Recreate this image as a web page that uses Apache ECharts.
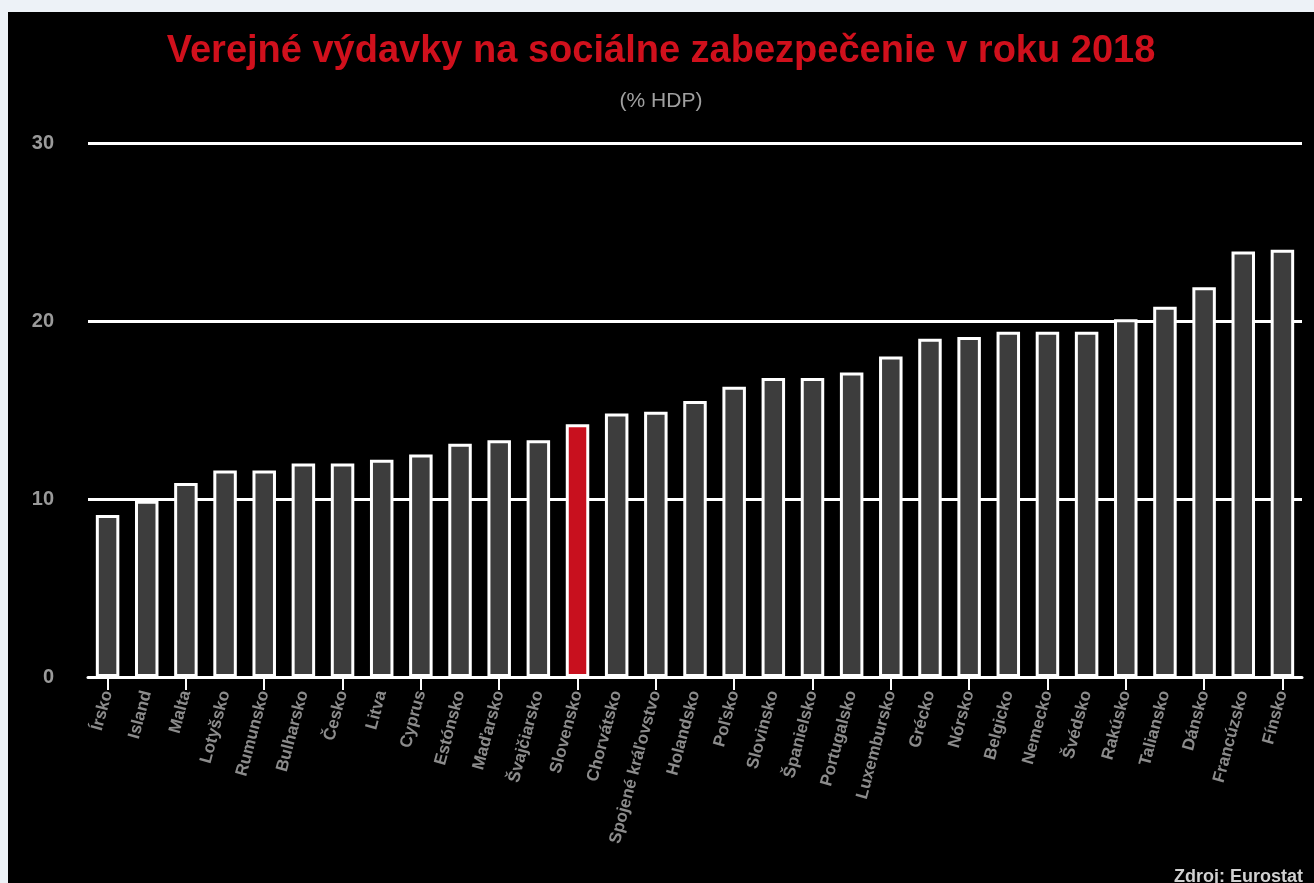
<!DOCTYPE html>
<html>
<head>
<meta charset="utf-8">
<script src="https://cdn.jsdelivr.net/npm/echarts@6/dist/echarts.min.js"></script>
<style>
  html, body { margin: 0; padding: 0; background: #edf2f7; width: 1314px; height: 883px; overflow: hidden; }
  #chart { position: absolute; left: 8px; top: 12px; width: 1306px; height: 871px; background: #000; }
</style>
</head>
<body>
<div id="chart"></div>
<script>
const categories = [
  "Írsko", "Island", "Malta", "Lotyšsko", "Rumunsko", "Bulharsko", "Česko", "Litva",
  "Cyprus", "Estónsko", "Maďarsko", "Švajčiarsko", "Slovensko", "Chorvátsko",
  "Spojené kráľovstvo", "Holandsko", "Poľsko", "Slovinsko", "Španielsko", "Portugalsko",
  "Luxembursko", "Grécko", "Nórsko", "Belgicko", "Nemecko", "Švédsko", "Rakúsko",
  "Taliansko", "Dánsko", "Francúzsko", "Fínsko"
];
const values = [
  9.1, 9.9, 10.9, 11.6, 11.6, 12.0, 12.0, 12.2,
  12.5, 13.1, 13.3, 13.3, 14.2, 14.8,
  14.9, 15.5, 16.3, 16.8, 16.8, 17.1,
  18.0, 19.0, 19.1, 19.4, 19.4, 19.4, 20.1,
  20.8, 21.9, 23.9, 24.0
];
const highlighted = "Slovensko";
const yTicks = [0, 10, 20, 30];
const titleText = "Verejné výdavky na sociálne zabezpečenie v roku 2018";
const subtitleText = "(% HDP)";
const sourceText = "Zdroj: Eurostat";

const chart = echarts.init(document.getElementById('chart'), null, { renderer: 'canvas' });
const barData = values.map((v, i) => ({
  value: v,
  itemStyle: { color: categories[i] === highlighted ? '#c8101e' : '#3d3d3d' }
}));

chart.setOption({
  backgroundColor: '#000',
  animation: false,
  title: [{
    text: titleText,
    left: 'center',
    top: 16,
    textStyle: { color: '#d0101c', fontSize: 38, fontWeight: 'bold', fontFamily: 'Liberation Sans' }
  }, {
    text: subtitleText,
    left: 'center',
    top: 74,
    textStyle: { color: '#a0a0a0', fontSize: 21, fontWeight: 'normal', fontFamily: 'Liberation Sans' }
  }],
  grid: { left: 80, right: 12, top: 131, bottom: 206 },
  xAxis: {
    type: 'category',
    data: categories,
    axisLine: { lineStyle: { color: '#ffffff', width: 3 } },
    axisTick: { show: true, interval: 1, alignWithLabel: true, length: 13, lineStyle: { color: '#ffffff', width: 2 } },
    axisLabel: { interval: 0, rotate: 75, margin: 14, color: '#8c8c8c', fontSize: 17, fontWeight: 'bold', fontFamily: 'Liberation Sans' }
  },
  yAxis: {
    type: 'value',
    min: yTicks[0],
    max: yTicks[yTicks.length - 1],
    interval: 10,
    axisLine: { show: false },
    axisTick: { show: false },
    axisLabel: { color: '#9a9a9a', fontSize: 20, fontWeight: 'bold', margin: 34, fontFamily: 'Liberation Sans' },
    splitLine: { lineStyle: { color: '#ffffff', width: 3 } }
  },
  series: [{
    type: 'bar',
    data: barData,
    barWidth: '60%',
    itemStyle: { borderColor: '#ffffff', borderWidth: 3 }
  }],
  graphic: [{
    type: 'text',
    right: 11,
    top: 856,
    style: { text: sourceText, fill: '#d0d0d0', font: 'bold 18px "Liberation Sans"' }
  }]
});
</script>
</body>
</html>
